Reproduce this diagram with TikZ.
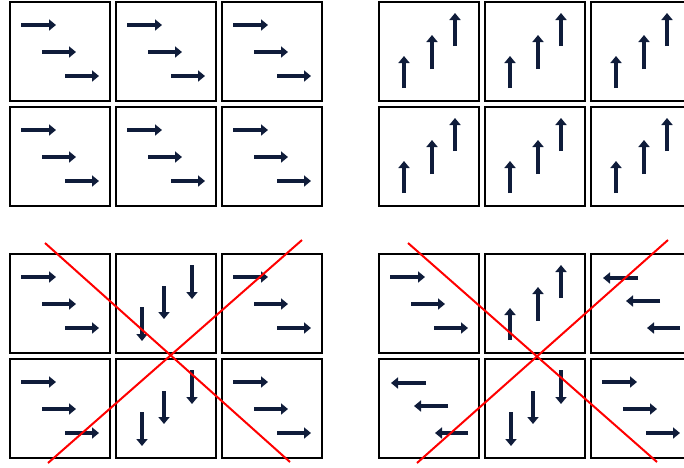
\documentclass[tikz,border=0pt]{standalone}
\usetikzlibrary{positioning,arrows.meta}

\definecolor{spinblue}{RGB}{15,28,58}

\tikzset{
  cell/.style={draw, line width=2.2pt, minimum width=100pt, minimum height=99pt,
    inner sep=0pt, outer sep=0pt, anchor=north west},
  spin/.style={spinblue, line width=4.2pt, -{Triangle[length=7pt,width=11pt]}},
  cross/.style={red, line width=2pt}
}

% six cells, 3 x 2
\newcommand{\spinblock}[3]{%
  \node[cell] (#1a) at (#2,#3) {};
  \node[cell, right=of #1a] (#1b) {};
  \node[cell, right=of #1b] (#1c) {};
  \node[cell, below=of #1a] (#1d) {};
  \node[cell, right=of #1d] (#1e) {};
  \node[cell, right=of #1e] (#1f) {};
}
% three spins in one cell
\newcommand{\spinsright}[1]{\foreach \xa/\xb/\yy in {11/46/23,32/66/50,55/89/74}
  \draw[spin] ([shift={(\xa,\yy)}]#1.north west) -- ([shift={(\xb,\yy)}]#1.north west);}
\newcommand{\spinsleft}[1]{\foreach \xa/\xb/\yy in {47/12/24,69/35/47,89/56/74}
  \draw[spin] ([shift={(\xa,\yy)}]#1.north west) -- ([shift={(\xb,\yy)}]#1.north west);}
\newcommand{\spinsup}[1]{\foreach \xx/\ya/\yb in {25/86/54,53/67/33,76/44/11}
  \draw[spin] ([shift={(\xx,\ya)}]#1.north west) -- ([shift={(\xx,\yb)}]#1.north west);}
\newcommand{\spinsdown}[1]{\foreach \xx/\ya/\yb in {26/53/87,48/32/65,76/11/45}
  \draw[spin] ([shift={(\xx,\ya)}]#1.north west) -- ([shift={(\xx,\yb)}]#1.north west);}

\begin{document}
\begin{tikzpicture}[x=1pt, y=-1pt, node distance=6pt]
  \path[use as bounding box, clip] (0,0) rectangle (684,467);

  % ordered states
  \spinblock{fx}{10}{2}
  \spinblock{fy}{379}{2}
  \foreach \c in {a,b,c,d,e,f} {\spinsright{fx\c} \spinsup{fy\c}}

  % domain walls
  \spinblock{wa}{10}{254}
  \spinblock{wb}{379}{254}
  \foreach \c in {a,c,d,f} {\spinsright{wa\c}}
  \foreach \c in {b,e} {\spinsdown{wa\c}}
  \spinsright{wba} \spinsup{wbb} \spinsleft{wbc}
  \spinsleft{wbd} \spinsdown{wbe} \spinsright{wbf}

  % crossed out
  \draw[cross] (45,243) -- (290,462);
  \draw[cross] (302,240) -- (48,463);
  \draw[cross] (408,243) -- (657,462);
  \draw[cross] (668,240) -- (417,463);
\end{tikzpicture}
\end{document}
